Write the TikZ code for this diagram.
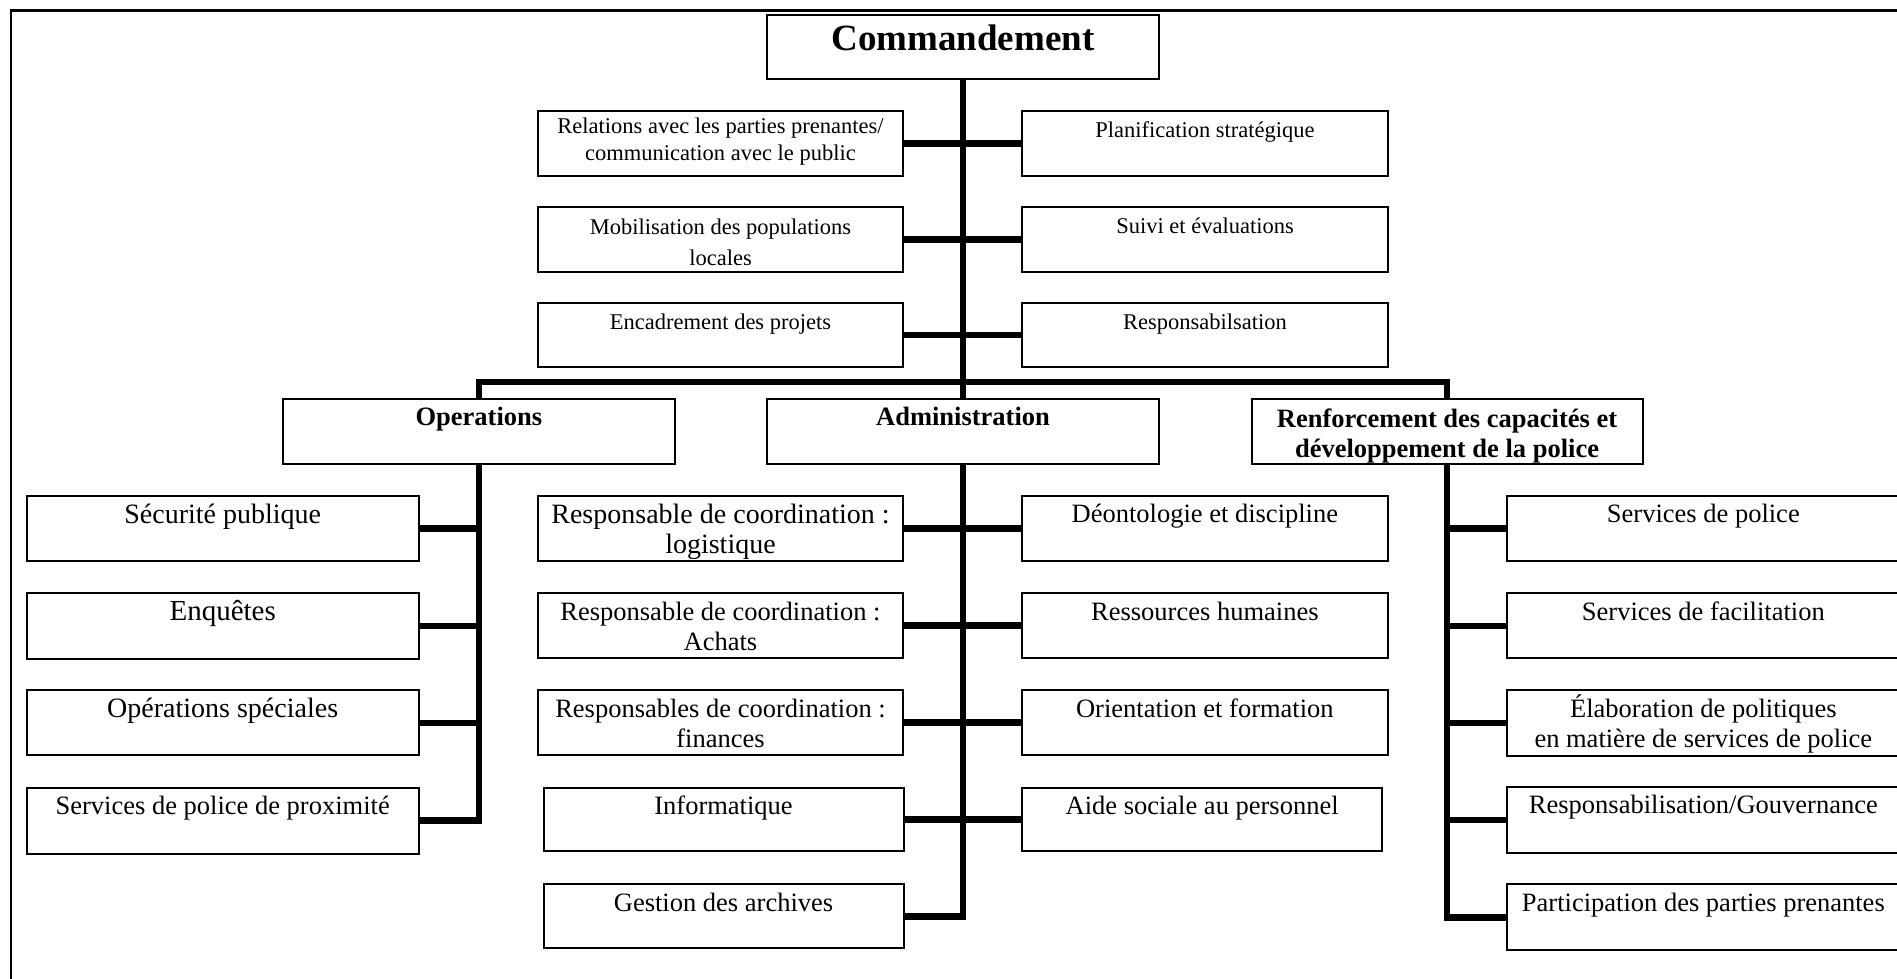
\documentclass[tikz,border=0pt]{standalone}
\usepackage{fontspec}
\setmainfont{Liberation Serif}
\newcommand\fcmd{\fontsize{37}{40}\selectfont\bfseries}
\newcommand\ftit{\fontsize{26.5}{30}\selectfont\bfseries}
\newcommand\fsub{\fontsize{26.5}{30.5}\selectfont}
\newcommand\fsubL{\fontsize{28}{30.5}\selectfont}
\newcommand\fsubXL{\fontsize{29}{30.5}\selectfont}
\newcommand\ftop{\fontsize{22.5}{27}\selectfont}
\newcommand\ftopb{\fontsize{22.5}{31}\selectfont}
\tikzset{
  boxst/.style={draw, line width=2pt, inner sep=0pt, anchor=north west, fill=white},
  conn/.style={line width=6.5pt},
  frameline/.style={line width=2.2pt},
}
% name, x1, y1, x2, y2, font, first baseline, text
\newcommand\bx[8]{\node[boxst] (#1) at (#2,#3) {\parbox[t][\dimexpr #5pt-#3pt\relax][t]{\dimexpr #4pt-#2pt\relax}{\centering#6\rule{0pt}{#7pt}#8\par}};}
\begin{document}
\begin{tikzpicture}[x=1pt,y=-1pt]
\useasboundingbox (0,0) rectangle (1897,979);
\draw[frameline] (1910,10.5) -- (11,10.5) -- (11,995);

% top level
\bx{cmd}{766}{14.3}{1158}{78.3}{\fcmd}{35.7}{Commandement}
\bx{rel}{536.7}{110}{902.3}{174.5}{\ftop}{22.3}{Relations avec les parties prenantes/\\communication avec le public}
\bx{plan}{1021}{110}{1387}{174.5}{\ftop}{26.6}{Planification stratégique}
\bx{mob}{536.7}{206}{902.3}{270.7}{\ftopb}{27.3}{Mobilisation des populations\\locales}
\bx{suivi}{1021}{206}{1387}{270.7}{\ftop}{26.6}{Suivi et évaluations}
\bx{enc}{536.7}{301.7}{902.3}{366}{\ftop}{26.6}{Encadrement des projets}
\bx{resp}{1021}{301.7}{1387}{366}{\ftop}{26.6}{Responsabilsation}

% second level
\bx{ops}{281.7}{397.5}{674}{463.3}{\ftit}{26.7}{Operations}
\bx{adm}{766}{397.5}{1158}{463.3}{\ftit}{26.7}{Administration}
\bx{renf}{1250.5}{397.5}{1641.5}{463.3}{\ftit}{28.6}{Renforcement des capacités et\\développement de la police}

% operations
\bx{sec}{25.7}{495}{417.7}{560.3}{\fsubL}{27.2}{Sécurité publique}
\bx{enq}{25.7}{592}{417.7}{657.7}{\fsubXL}{27.5}{Enquêtes}
\bx{opsp}{25.7}{689.4}{417.7}{754.3}{\fsubL}{27.2}{Opérations spéciales}
\bx{prox}{25.7}{786.8}{417.7}{852.5}{\fsub}{26.7}{Services de police de proximité}

% administration
\bx{logi}{536.7}{495}{902.3}{559.5}{\fsubL}{27.2}{Responsable de coordination~:\\logistique}
\bx{ach}{536.7}{592.3}{902.3}{656.5}{\fsub}{26.7}{Responsable de coordination~:\\Achats}
\bx{fin}{536.7}{689.4}{902.3}{753.6}{\fsub}{26.7}{Responsables de coordination~:\\finances}
\bx{info}{542.5}{786.8}{902.6}{849.8}{\fsub}{26.7}{Informatique}
\bx{arch}{542.5}{883.4}{902.6}{947.2}{\fsub}{26.7}{Gestion des archives}
\bx{deon}{1021}{495}{1386.7}{559.5}{\fsub}{26.7}{Déontologie et discipline}
\bx{rh}{1021}{592.3}{1386.7}{656.5}{\fsub}{26.7}{Ressources humaines}
\bx{orient}{1021}{689.4}{1386.7}{753.6}{\fsub}{26.7}{Orientation et formation}
\bx{aide}{1021}{786.8}{1381.3}{849.8}{\fsub}{26.7}{Aide sociale au personnel}

% renforcement
\bx{svc}{1505.7}{495}{1899}{560}{\fsub}{26.7}{Services de police}
\bx{facil}{1505.7}{592.3}{1899}{657.3}{\fsub}{26.7}{Services de facilitation}
\bx{elab}{1505.7}{689.3}{1899}{755}{\fsub}{26.7}{Élaboration de politiques\\en matière de services de police}
\bx{gouv}{1505.7}{786}{1899}{852.3}{\fsub}{26.7}{Responsabilisation/Gouvernance}
\bx{part}{1505.7}{883.3}{1899}{949.3}{\fsub}{26.7}{Participation des parties prenantes}

% connectors
\coordinate (bar) at (962,382);
\draw[conn] (cmd.south) -- (adm.north);
\draw[conn] (ops.north) |- (bar) -| (renf.north);
\draw[conn] (rel.east) -- (plan.west);
\draw[conn] (mob.east) -- (suivi.west);
\draw[conn] (enc.east) -- (resp.west);

\draw[conn] (ops.south) |- (prox.east);
\foreach \n in {sec,enq,opsp} \draw[conn] (\n.east) -- (\n.east -| ops.south);

\draw[conn] (adm.south) |- (arch.east);
\draw[conn] (logi.east) -- (deon.west);
\draw[conn] (ach.east) -- (rh.west);
\draw[conn] (fin.east) -- (orient.west);
\draw[conn] (info.east) -- (aide.west);

\draw[conn] (renf.south) |- (part.west);
\foreach \n in {svc,facil,elab,gouv} \draw[conn] (\n.west) -- (\n.west -| renf.south);
\end{tikzpicture}
\end{document}
